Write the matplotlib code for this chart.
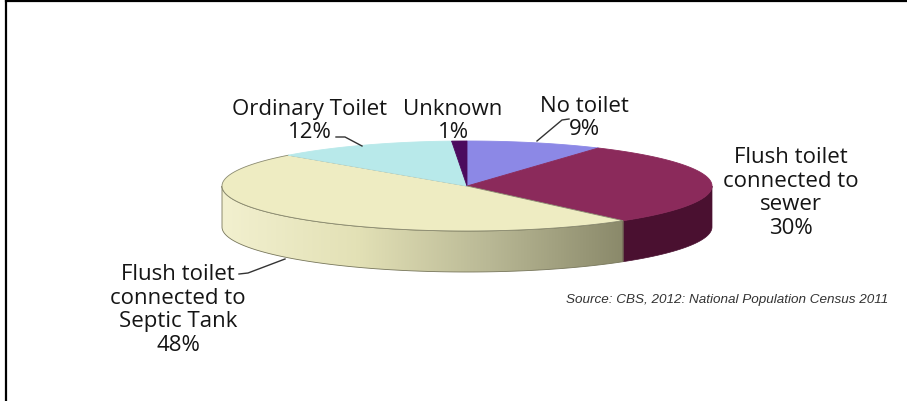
import numpy as np
import matplotlib.pyplot as plt
from matplotlib.patches import Polygon
from matplotlib.colors import LinearSegmentedColormap

# data
categories = ["No toilet", "Flush toilet\nconnected to\nsewer", "Flush toilet\nconnected to\nSeptic Tank",
              "Ordinary Toilet", "Unknown"]
shares = [9, 30, 48, 12, 1]
top_colors = ["#8c88e6", "#8b2a5b", "#eeecc2", "#b8e9ea", "#4b0b5e"]
side_colors = ["#5f5bb0", "#4a1030", None, "#7fb5b6", "#2e0638"]

# pie geometry in pixels (axes uses pixel coords, y down)
cx, cy = 467, 187
a, b = 245, 45
depth = 41

fig = plt.figure(figsize=(9.07, 4.02), dpi=100)
ax = fig.add_axes([0, 0, 1, 1])
ax.set_xlim(0, 907)
ax.set_ylim(402, 0)
ax.axis("off")


def ell(theta, dy=0.0):
    # theta: radians clockwise from 12 o'clock
    return cx + a * np.sin(theta), cy - b * np.cos(theta) + dy


edges = np.concatenate([[0], np.cumsum(shares)]) / np.sum(shares) * 2 * np.pi

# side walls (front half only: pi/2 .. 3pi/2)
for i in range(len(shares)):
    t1 = max(edges[i], np.pi / 2)
    t2 = min(edges[i + 1], 3 * np.pi / 2)
    if t2 <= t1:
        continue
    t = np.linspace(t1, t2, 120)
    xs, ys = ell(t)
    xb, yb = ell(t[::-1], depth)
    pts = np.column_stack([np.concatenate([xs, xb]), np.concatenate([ys, yb])])
    if side_colors[i] is None:
        poly = Polygon(pts, closed=True, facecolor="none", edgecolor="#77765a", lw=0.6, zorder=2)
        ax.add_patch(poly)
        cmap = LinearSegmentedColormap.from_list("side", ["#f2f0cf", "#e3e1b6", "#b9b895", "#8a896a"])
        grad = np.linspace(0, 1, 256).reshape(1, -1)
        x0, x1 = pts[:, 0].min(), pts[:, 0].max()
        im = ax.imshow(grad, cmap=cmap, aspect="auto", extent=[x0, x1, pts[:, 1].max(), pts[:, 1].min()],
                       zorder=1)
        im.set_clip_path(poly)
    else:
        ax.add_patch(Polygon(pts, closed=True, facecolor=side_colors[i], edgecolor=side_colors[i],
                             lw=0.5, zorder=2))

# top faces
for i in range(len(shares)):
    t = np.linspace(edges[i], edges[i + 1], 200)
    xs, ys = ell(t)
    pts = np.column_stack([np.concatenate([[cx], xs]), np.concatenate([[cy], ys])])
    ec = "#8a8a70" if i == 2 else top_colors[i]
    ax.add_patch(Polygon(pts, closed=True, facecolor=top_colors[i], edgecolor=ec, lw=0.6, zorder=3))

# labels
font = dict(family="Open Sans", fontsize=16, color="#151515", ha="center", va="center", linespacing=1.15)
label_pos = [(584, 118), (791, 193), (178, 310), (310, 121), (453, 121)]
for name, val, (lx, ly) in zip(categories, shares, label_pos):
    ax.text(lx, ly, f"{name}\n{val}%", zorder=5, **font)

# leader lines
leaders = [
    [(569, 120), (562, 121), (537, 142)],
    [(336, 138), (345, 138), (362, 147)],
    [(239, 275), (248, 274), (285, 260)],
]
for ln in leaders:
    lx, ly = zip(*ln)
    ax.plot(lx, ly, color="#333333", lw=1.0, zorder=4)

ax.text(888, 300, "Source: CBS, 2012: National Population Census 2011", family="Liberation Sans",
        style="italic", fontsize=9.7, color="#333333", ha="right", va="center")

# frame of the original figure
ax.plot([6, 907], [2, 2], color="black", lw=1.6, clip_on=False)
ax.plot([6, 6], [2, 402], color="black", lw=1.6, clip_on=False)

fig.savefig("out.png", dpi=100)
